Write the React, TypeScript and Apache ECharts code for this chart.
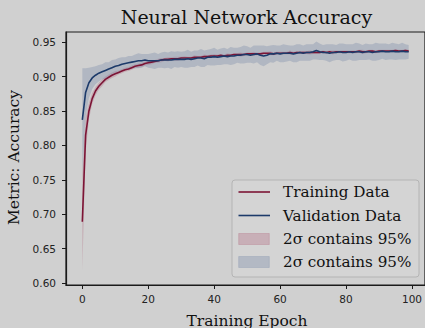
import React, { useEffect, useRef } from 'react';
import * as echarts from 'echarts';

const epochs = [
  0, 1, 2, 3, 4, 5, 6, 7, 8, 9, 10, 11, 12, 13, 14, 15, 16, 17, 18, 19,
  20, 21, 22, 23, 24, 25, 26, 27, 28, 29, 30, 31, 32, 33, 34, 35, 36, 37, 38, 39,
  40, 41, 42, 43, 44, 45, 46, 47, 48, 49, 50, 51, 52, 53, 54, 55, 56, 57, 58, 59,
  60, 61, 62, 63, 64, 65, 66, 67, 68, 69, 70, 71, 72, 73, 74, 75, 76, 77, 78, 79,
  80, 81, 82, 83, 84, 85, 86, 87, 88, 89, 90, 91, 92, 93, 94, 95, 96, 97, 98, 99,
];

const trainAcc = [
  0.689, 0.815, 0.850, 0.868, 0.879, 0.886, 0.891, 0.896, 0.899, 0.902,
  0.904, 0.906, 0.908, 0.910, 0.911, 0.913, 0.915, 0.916, 0.917, 0.919,
  0.920, 0.921, 0.922, 0.923, 0.924, 0.925, 0.925, 0.926, 0.926, 0.926,
  0.927, 0.927, 0.927, 0.927, 0.928, 0.928, 0.928, 0.929, 0.929, 0.930,
  0.930, 0.930, 0.931, 0.930, 0.931, 0.931, 0.932, 0.932, 0.932, 0.932,
  0.933, 0.933, 0.933, 0.933, 0.933, 0.934, 0.934, 0.934, 0.933, 0.934,
  0.934, 0.934, 0.934, 0.935, 0.934, 0.935, 0.935, 0.935, 0.935, 0.935,
  0.935, 0.935, 0.935, 0.936, 0.935, 0.936, 0.935, 0.936, 0.936, 0.936,
  0.936, 0.936, 0.936, 0.936, 0.937, 0.936, 0.936, 0.937, 0.937, 0.936,
  0.937, 0.937, 0.937, 0.937, 0.937, 0.938, 0.937, 0.937, 0.938, 0.937,
];

const valAcc = [
  0.837, 0.877, 0.891, 0.898, 0.902, 0.905, 0.907, 0.909, 0.911, 0.913,
  0.915, 0.916, 0.918, 0.919, 0.920, 0.921, 0.922, 0.923, 0.923, 0.924,
  0.923, 0.923, 0.923, 0.923, 0.924, 0.924, 0.924, 0.924, 0.925, 0.925,
  0.925, 0.925, 0.926, 0.925, 0.926, 0.927, 0.927, 0.926, 0.928, 0.928,
  0.929, 0.928, 0.929, 0.930, 0.929, 0.930, 0.930, 0.931, 0.931, 0.932,
  0.932, 0.931, 0.932, 0.933, 0.931, 0.930, 0.931, 0.933, 0.933, 0.934,
  0.933, 0.934, 0.934, 0.934, 0.933, 0.934, 0.935, 0.934, 0.935, 0.935,
  0.936, 0.938, 0.936, 0.935, 0.935, 0.934, 0.935, 0.935, 0.936, 0.935,
  0.935, 0.936, 0.935, 0.936, 0.936, 0.935, 0.936, 0.936, 0.935, 0.936,
  0.936, 0.937, 0.936, 0.936, 0.937, 0.936, 0.936, 0.937, 0.936, 0.936,
];

// half-width of the 2-sigma band
const trainBand = [
  0.070, 0.025, 0.012, 0.008, 0.006, 0.005, 0.005, 0.004, 0.004, 0.004,
  0.004, 0.003, 0.003, 0.003, 0.003, 0.003, 0.003, 0.003, 0.003, 0.003,
  0.003, 0.003, 0.002, 0.003, 0.003, 0.002, 0.003, 0.002, 0.003, 0.003,
  0.002, 0.003, 0.002, 0.002, 0.003, 0.002, 0.002, 0.003, 0.002, 0.002,
  0.003, 0.002, 0.002, 0.002, 0.003, 0.002, 0.002, 0.002, 0.003, 0.002,
  0.002, 0.002, 0.003, 0.002, 0.002, 0.002, 0.002, 0.003, 0.002, 0.002,
  0.002, 0.002, 0.002, 0.003, 0.002, 0.002, 0.002, 0.002, 0.002, 0.003,
  0.002, 0.002, 0.002, 0.002, 0.002, 0.002, 0.003, 0.002, 0.002, 0.002,
  0.002, 0.002, 0.002, 0.002, 0.002, 0.003, 0.002, 0.002, 0.002, 0.002,
  0.002, 0.002, 0.002, 0.002, 0.002, 0.002, 0.002, 0.002, 0.002, 0.002,
];

const valBand = [
  0.075, 0.035, 0.022, 0.016, 0.013, 0.012, 0.011, 0.012, 0.010, 0.011,
  0.010, 0.011, 0.010, 0.009, 0.010, 0.009, 0.010, 0.011, 0.010, 0.009,
  0.010, 0.011, 0.012, 0.010, 0.011, 0.012, 0.011, 0.013, 0.011, 0.012,
  0.011, 0.012, 0.013, 0.011, 0.012, 0.011, 0.013, 0.012, 0.011, 0.012,
  0.013, 0.011, 0.012, 0.012, 0.011, 0.013, 0.012, 0.011, 0.012, 0.013,
  0.012, 0.011, 0.013, 0.012, 0.014, 0.015, 0.013, 0.012, 0.013, 0.011,
  0.012, 0.013, 0.012, 0.011, 0.012, 0.013, 0.012, 0.011, 0.012, 0.012,
  0.011, 0.013, 0.012, 0.011, 0.012, 0.013, 0.012, 0.011, 0.012, 0.013,
  0.012, 0.011, 0.012, 0.013, 0.012, 0.011, 0.012, 0.011, 0.012, 0.013,
  0.012, 0.011, 0.012, 0.011, 0.012, 0.012, 0.011, 0.012, 0.011, 0.010,
];

const yTicks = [0.6, 0.65, 0.7, 0.75, 0.8, 0.85, 0.9, 0.95];
const xTicks = [0, 20, 40, 60, 80, 100];

const BG = '#d0d0d0';
const RED = '#7c1435';
const BLUE = '#1c3a6a';
const PINK_FILL = 'rgba(168,70,100,0.26)';
const BLUE_FILL = 'rgba(125,142,172,0.38)';
const SERIF = '"DejaVu Serif", serif';
const SANS = '"DejaVu Sans", sans-serif';

export default function App() {
  const ref = useRef<HTMLDivElement>(null);
  useEffect(() => {
    if (!ref.current) return;
    const chart = echarts.init(ref.current, undefined, { renderer: 'svg' });
    const pts = (arr: number[]) => epochs.map((e, i) => [e, arr[i]]);

    const bandSeries = (name: string, mean: number[], half: number[], color: string) => ({
      name,
      type: 'custom',
      silent: true,
      data: [[0, 0]],
      encode: { x: 0, y: 1 },
      renderItem: (_params: any, api: any) => {
        const upper = epochs.map((e, i) => api.coord([e, mean[i] + half[i]]));
        const lower = epochs.map((e, i) => api.coord([e, mean[i] - half[i]])).reverse();
        return {
          type: 'polygon',
          shape: { points: upper.concat(lower) },
          style: { fill: color, stroke: 'none' },
        };
      },
    });

    const rows = [192, 215.5, 239, 262];
    chart.setOption({
      animation: false,
      backgroundColor: BG,
      grid: {
        left: 66, top: 32, width: 361.4, height: 253,
        show: true, borderColor: '#1a1a1a', borderWidth: 1.2, backgroundColor: 'transparent',
      },
      xAxis: {
        type: 'value', min: -4.95, max: 103.95,
        axisLine: { show: true, onZero: false, lineStyle: { color: '#1a1a1a', width: 1.2 } },
        axisTick: { show: true, customValues: xTicks, length: 4, lineStyle: { color: '#1a1a1a' } },
        axisLabel: {
          customValues: xTicks, margin: 8, color: '#222', fontFamily: SANS, fontSize: 10.5,
        },
        splitLine: { show: false },
      },
      yAxis: {
        type: 'value', min: 0.5971, max: 0.9648,
        axisLine: { show: true, onZero: false, lineStyle: { color: '#1a1a1a', width: 1.2 } },
        axisTick: { show: true, customValues: yTicks, length: 4, lineStyle: { color: '#1a1a1a' } },
        axisLabel: {
          customValues: yTicks, margin: 10, color: '#222', fontFamily: SANS, fontSize: 10.5,
          formatter: (v: number) => v.toFixed(2),
        },
        splitLine: { show: false },
      },
      series: [
        bandSeries('trainBand', trainAcc, trainBand, PINK_FILL),
        bandSeries('valBand', valAcc, valBand, BLUE_FILL),
        {
          name: 'Training Data', type: 'line', data: pts(trainAcc), symbol: 'none',
          lineStyle: { color: RED, width: 1.6 }, z: 3,
        },
        {
          name: 'Validation Data', type: 'line', data: pts(valAcc), symbol: 'none',
          lineStyle: { color: BLUE, width: 1.6 }, z: 4,
        },
      ],
      graphic: [
        {
          type: 'text', x: 246.5, y: 16.5, z: 100,
          style: { text: 'Neural Network Accuracy', fill: '#111', font: `19px ${SERIF}`, textAlign: 'center', textVerticalAlign: 'middle' },
        },
        {
          type: 'text', x: 247, y: 320.5, z: 100,
          style: { text: 'Training Epoch', fill: '#111', font: `15.5px ${SERIF}`, textAlign: 'center', textVerticalAlign: 'middle' },
        },
        {
          type: 'text', x: 14.2, y: 157.5, rotation: Math.PI / 2, z: 100,
          style: { text: 'Metric: Accuracy', fill: '#111', font: `15.5px ${SERIF}`, textAlign: 'center', textVerticalAlign: 'middle' },
        },
        {
          type: 'rect', z: 100, shape: { x: 232, y: 180, width: 187, height: 97, r: 3 },
          style: { fill: 'rgba(212,212,212,0.8)', stroke: '#b4b4b4', lineWidth: 1 },
        },
        { type: 'line', z: 101, shape: { x1: 238.5, y1: rows[0], x2: 270, y2: rows[0] }, style: { stroke: RED, lineWidth: 1.6 } },
        { type: 'line', z: 101, shape: { x1: 238.5, y1: rows[1], x2: 270, y2: rows[1] }, style: { stroke: BLUE, lineWidth: 1.6 } },
        { type: 'rect', z: 101, shape: { x: 238.7, y: rows[2] - 5.5, width: 30.6, height: 11 }, style: { fill: PINK_FILL, stroke: PINK_FILL, lineWidth: 0.8 } },
        { type: 'rect', z: 101, shape: { x: 238.7, y: rows[3] - 5.5, width: 30.6, height: 11 }, style: { fill: BLUE_FILL, stroke: BLUE_FILL, lineWidth: 0.8 } },
        ...['Training Data', 'Validation Data', '2σ contains 95%', '2σ contains 95%'].map((t, i) => ({
          type: 'text', x: 283, y: rows[i], z: 101,
          style: { text: t, fill: '#111', font: `15.2px ${SERIF}`, textAlign: 'left', textVerticalAlign: 'middle' },
        })),
      ],
    });
    return () => chart.dispose();
  }, []);
  return <div ref={ref} style={{ position: 'fixed', left: 0, top: 0, width: 425, height: 328 }} />;
}
